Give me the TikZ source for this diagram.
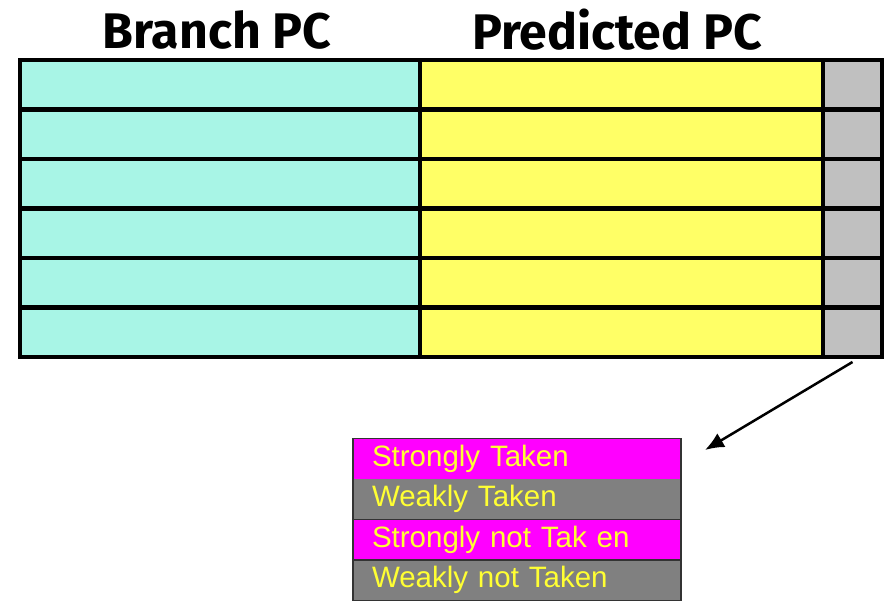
\documentclass[tikz,border=0pt]{standalone}
\usepackage{fontspec}
\newfontfamily\headfont{Fira Sans}
\newfontfamily\legendfont{Liberation Sans}
\usetikzlibrary{arrows.meta, positioning}

\definecolor{pccyan}{HTML}{A8F5E6}
\definecolor{pcyellow}{HTML}{FFFF66}
\definecolor{ctrgray}{HTML}{C0C0C0}
\definecolor{stmag}{HTML}{FF00FF}
\definecolor{stgray}{HTML}{808080}
\definecolor{sttext}{HTML}{FFFF33}

\begin{document}
\begin{tikzpicture}[x=1pt, y=-1pt,
	cell/.style={draw=black, line width=4.5pt, inner sep=0pt, outer sep=0pt, minimum height=49.5pt},
	title/.style={font=\headfont\bfseries\fontsize{50}{50}\selectfont},
	state/.style={inner sep=0pt, outer sep=0pt, minimum width=328pt, minimum height=40.5pt,
		text width=290pt, align=left, text=sttext, font=\legendfont\fontsize{29.5}{29.5}\selectfont},
	]
	\useasboundingbox (0,0) rectangle (884,602);

	\node[title] (hbranch) at (217,30) {Branch PC};
	\node[title] (hpred) at (617,30) {Predicted PC};

	% one row of the table per entry
	\foreach \i in {1,...,6} {
		\pgfmathsetmacro{\ymid}{60+49.5*(\i-0.5)}
		\node[cell, fill=pccyan, minimum width=400pt] (bpc\i) at (220,\ymid) {};
		\node[cell, fill=pcyellow, minimum width=403pt] (ppc\i) at (621.5,\ymid) {};
		\node[cell, fill=ctrgray, minimum width=59pt] (ctr\i) at (852.5,\ymid) {};
	}

	% 2-bit counter states
	\node[state, fill=stmag] (st1) at (517,458.5) {Strongly Taken};
	\node[state, fill=stgray, below=0pt of st1] (st2) {Weakly Taken};
	\node[state, fill=stmag, below=0pt of st2] (st3) {Strongly not Tak en};
	\node[state, fill=stgray, below=0pt of st3] (st4) {Weakly not Taken};
	\draw[line width=1.5pt, draw=black!80] (st1.north west) rectangle (st4.south east);
	\draw[line width=1.5pt, draw=black!80] (st2.south west) -- (st2.south east);
	\draw[line width=1.5pt, draw=black!80] (st3.south west) -- (st3.south east);

	\coordinate (tip) at (705,450);
	\draw[line width=2.5pt, -{Latex[length=19pt, width=16pt]}] (ctr6.south) ++(0,5) -- (tip);
\end{tikzpicture}
\end{document}
